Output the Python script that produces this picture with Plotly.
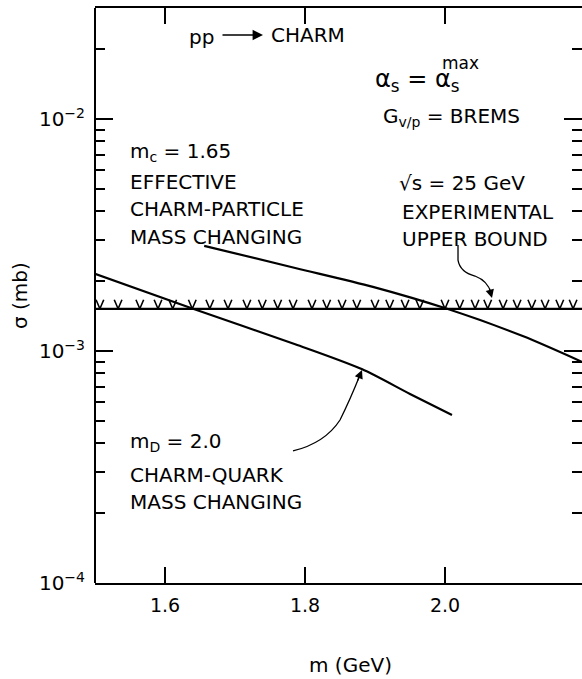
import plotly.graph_objects as go
import numpy as np

# ---------------- data ----------------
# effective charm-particle mass changing (m_c = 1.65)
m_eff = [1.656, 1.786, 1.897, 2.003, 2.111, 2.196]
sig_eff = [2.84e-3, 2.28e-3, 1.89e-3, 1.52e-3, 1.16e-3, 0.897e-3]

# charm-quark mass changing (m_D = 2.0)
m_quark = [1.50, 1.640, 1.786, 1.881, 1.950, 2.010]
sig_quark = [2.15e-3, 1.52e-3, 1.07e-3, 0.836e-3, 0.653e-3, 0.53e-3]

# experimental upper bound at sqrt(s) = 25 GeV
upper_bound = 1.52e-3
hatch_m = [1.507, 1.533, 1.564, 1.590, 1.611, 1.639, 1.664, 1.690, 1.717, 1.739,
           1.761, 1.783, 1.810, 1.831, 1.853, 1.874, 1.900, 1.921, 1.943, 1.964,
           2.000, 2.021, 2.043, 2.061, 2.083, 2.103, 2.124, 2.143, 2.164, 2.183]

x_ticks = [1.6, 1.8, 2.0]
x_ticklabels = ["1.6", "1.8", "2.0"]
y_ticks = [1e-4, 1e-3, 1e-2]
y_ticklabels = ["10<sup>−4</sup>", "10<sup>−3</sup>", "10<sup>−2</sup>"]
y_minor = [k * 10.0 ** e for e in (-4, -3, -2) for k in range(2, 10)]

# ---------------- layout geometry ----------------
W, H = 582, 679
L, R, T, B = 95, 0, 8, 96
PW, PH = W - L - R, H - T - B


def P(px, py):
    return (px - L) / PW, (H - B - py) / PH


FONT = "DejaVu Sans"
BLACK = "black"
FS = 20

fig = go.Figure()

fig.add_trace(go.Scatter(x=m_eff, y=sig_eff, mode="lines",
                         line=dict(color=BLACK, width=2.2, shape="spline", smoothing=0.8),
                         showlegend=False, hoverinfo="skip"))
fig.add_trace(go.Scatter(x=m_quark, y=sig_quark, mode="lines",
                         line=dict(color=BLACK, width=2.2, shape="spline", smoothing=0.8),
                         showlegend=False, hoverinfo="skip"))
fig.add_trace(go.Scatter(x=[1.5, 2.2], y=[upper_bound, upper_bound], mode="lines",
                         line=dict(color=BLACK, width=2.2),
                         showlegend=False, hoverinfo="skip"))

# V-shaped hatches on the upper bound
hx, hy = [], []
dx = 0.0055
top = upper_bound * 10 ** (9 / 232)
for m in hatch_m:
    hx += [m - dx, m, m + dx, None]
    hy += [top, upper_bound, top, None]
fig.add_trace(go.Scatter(x=hx, y=hy, mode="lines", line=dict(color=BLACK, width=1.6),
                         showlegend=False, hoverinfo="skip"))

annotations = []


def txt(text, px, py, size=FS, xanchor="left", yanchor="middle", angle=0):
    x, y = P(px, py)
    annotations.append(dict(text=text, x=x, y=y, xref="paper", yref="paper",
                            xanchor=xanchor, yanchor=yanchor, showarrow=False,
                            textangle=angle,
                            font=dict(family=FONT, size=size, color=BLACK)))


txt("pp", 187, 37)
txt("CHARM", 269, 35)
txt("α<sub>s</sub> = α<sub>s</sub>", 373, 80, size=24)
txt("max", 440, 63, size=17)
txt("G<sub>v/p</sub> = BREMS", 381, 117)
txt("m<sub>c</sub> = 1.65", 128, 152)
txt("EFFECTIVE", 128, 182)
txt("CHARM-PARTICLE", 128, 209)
txt("MASS CHANGING", 128, 237)
txt("√s = 25 GeV", 397, 183)
txt("EXPERIMENTAL", 400, 212)
txt("UPPER BOUND", 400, 239)
txt("m<sub>D</sub> = 2.0", 128, 442)
txt("CHARM-QUARK", 128, 475)
txt("MASS CHANGING", 128, 502)
txt("m (GeV)", 350, 665, xanchor="center")
txt("σ (mb)", 20, 296, xanchor="center", angle=-90)


def arrow(tx, ty, bx, by, width=1.3, size=1.3):
    x, y = P(tx, ty)
    annotations.append(dict(x=x, y=y, ax=bx - tx, ay=by - ty, xref="paper", yref="paper",
                            axref="pixel", ayref="pixel", text="", showarrow=True,
                            arrowhead=2, arrowsize=size, arrowwidth=width,
                            arrowcolor=BLACK, standoff=0))


arrow(263, 35, 221, 35, width=1.6, size=1.3)
arrow(492, 298, 489, 287)
arrow(362, 370, 357, 382)


def path(cmds):
    out = []
    for c in cmds:
        if isinstance(c, str):
            out.append(c)
        else:
            x, y = P(*c)
            out.append(f"{x:.4f},{y:.4f}")
    return " ".join(out)


shapes = [
    dict(type="path", xref="paper", yref="paper",
         path=path(["M", (458, 245), "L", (458, 260), "Q", (460, 272), (475, 276),
                    "Q", (488, 281), (491, 293)]),
         line=dict(color=BLACK, width=1.3)),
    dict(type="path", xref="paper", yref="paper",
         path=path(["M", (293, 451), "Q", (325, 443), (340, 420),
                    "Q", (350, 400), (360, 375)]),
         line=dict(color=BLACK, width=1.3)),
    # left frame line
    dict(type="line", xref="paper", yref="paper", x0=0, x1=0, y0=0, y1=1,
         line=dict(color=BLACK, width=2)),
]

fig.update_layout(
    width=W, height=H,
    margin=dict(l=L, r=R, t=T, b=B, pad=0),
    paper_bgcolor="white", plot_bgcolor="white",
    annotations=annotations, shapes=shapes,
    xaxis=dict(range=[1.5, 1.5 + PW / 700], tickvals=x_ticks, ticktext=x_ticklabels,
               ticks="inside", ticklen=16, tickwidth=1.5, tickcolor=BLACK,
               showline=True, linecolor=BLACK, linewidth=2, mirror="ticks",
               showgrid=False, zeroline=False, ticklabelstandoff=4,
               tickfont=dict(family=FONT, size=19, color=BLACK)),
    yaxis=dict(type="log", range=[-4, -4 + PH / 232], tickvals=y_ticks,
               ticktext=y_ticklabels, ticks="inside", ticklen=18, tickwidth=1.5,
               tickcolor=BLACK, showline=False, mirror="ticks", showgrid=False,
               zeroline=False, ticklabelstandoff=9,
               minor=dict(tickvals=y_minor, ticks="inside", ticklen=10, tickwidth=1.5,
                          tickcolor=BLACK, showgrid=False),
               tickfont=dict(family=FONT, size=20, color=BLACK)),
)

fig.write_html("out.html")
